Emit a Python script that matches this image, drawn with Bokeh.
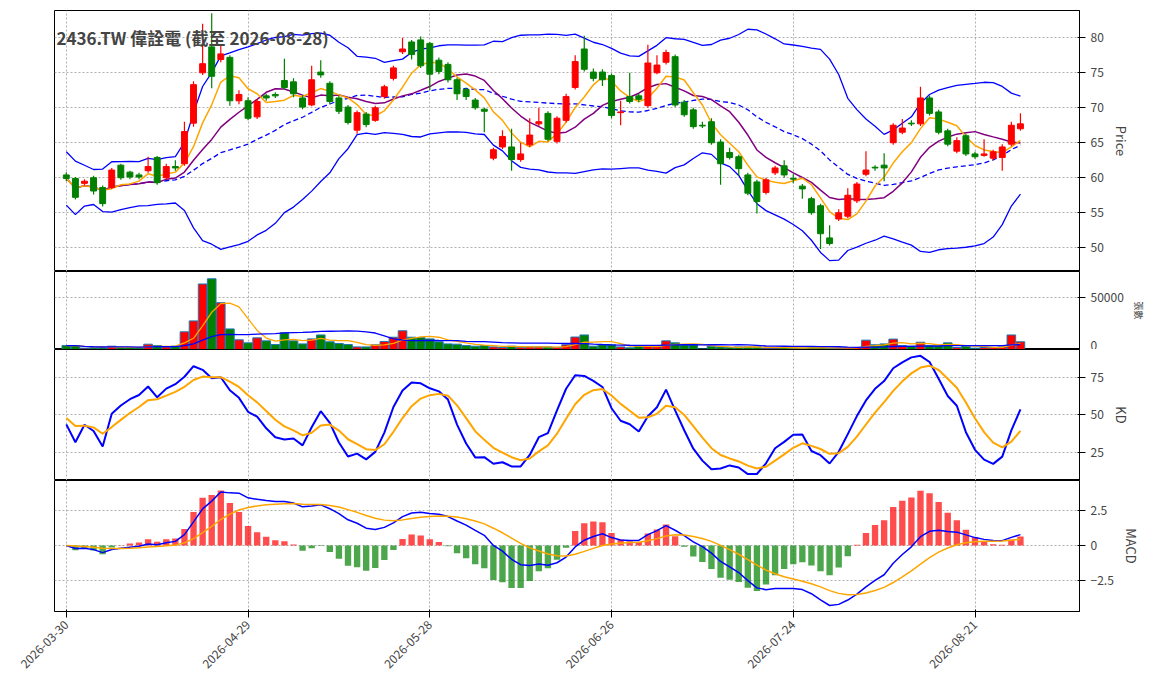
import numpy as np, pandas as pd
from bokeh.plotting import figure
from bokeh.layouts import column
from bokeh.models import ColumnDataSource, FixedTicker, Range1d, Label
from bokeh.embed import file_html
from bokeh.resources import INLINE

tick_idx = [0, 20, 40, 60, 80, 100]
tick_labels = ["2026-03-30", "2026-04-29", "2026-05-28", "2026-06-26", "2026-07-24", "2026-08-21"]

opens = [60.4,59.9,59.2,60.0,58.6,58.6,61.8,60.8,60.4,61.0,62.9,60.0,61.6,62.0,67.8,75.0,78.7,76.9,77.2,71.0,
         71.0,68.7,71.7,71.9,73.9,73.7,71.4,70.4,75.1,73.5,71.4,70.1,66.8,69.1,68.2,71.6,74.2,78.0,79.4,79.7,
         79.2,76.8,76.2,74.0,72.6,71.1,69.8,62.8,64.4,64.4,62.6,64.7,67.7,69.2,65.2,68.2,72.9,78.4,75.1,75.1,
         74.6,69.3,71.6,71.7,70.3,75.0,76.5,77.3,70.8,69.7,67.5,68.0,65.1,63.6,63.0,60.4,59.4,57.9,60.7,61.7,
         59.9,58.8,57.0,56.0,51.4,54.1,54.5,56.7,60.5,61.5,61.8,65.0,66.5,67.8,67.7,71.4,69.4,66.7,63.8,66.0,
         63.4,63.2,62.8,62.9,64.8,67.0]
closes = [59.9,57.2,59.5,58.1,56.3,61.1,60.0,60.1,60.1,61.6,59.3,61.6,61.4,66.6,73.3,76.3,74.5,77.7,71.0,71.9,
          68.5,70.9,71.4,71.7,72.9,72.0,70.1,74.0,74.7,70.9,69.5,67.9,69.3,67.6,70.0,73.0,75.7,78.4,77.6,76.0,
          74.8,75.2,74.0,72.0,71.6,70.0,69.5,64.0,65.9,62.6,63.4,66.1,68.0,65.5,68.5,71.6,76.6,75.5,74.2,74.0,
          68.9,69.4,70.9,71.2,76.4,76.1,77.9,70.4,69.0,67.3,67.4,65.0,62.0,62.9,61.3,57.8,56.6,59.7,61.4,60.4,
          59.8,58.4,55.0,52.0,50.6,55.0,57.5,59.1,61.1,61.4,61.4,67.5,67.1,67.7,71.4,69.2,66.5,64.8,65.3,63.4,
          63.0,63.4,63.7,64.4,67.5,67.7]
highs = [60.8,60.1,59.8,60.3,58.9,61.4,62.0,61.0,60.7,63.0,63.1,62.0,62.5,68.0,73.8,82.0,83.5,79.0,77.5,72.5,
         71.5,71.2,72.0,72.2,77.0,74.2,71.8,76.0,76.8,73.8,71.7,70.4,69.6,69.4,70.3,73.3,76.0,80.0,79.7,80.2,
         79.4,77.2,76.5,74.3,72.9,71.4,70.0,64.3,66.8,67.0,65.0,68.5,70.0,69.5,68.8,72.0,77.5,80.3,75.6,75.5,
         74.9,71.0,75.0,72.0,79.0,77.5,78.3,77.6,71.1,70.0,68.0,68.5,65.5,64.3,63.3,60.7,59.7,60.0,61.7,62.5,
         60.5,59.1,57.3,56.3,53.2,55.5,58.5,59.4,63.8,61.8,63.5,67.8,68.4,68.2,73.0,71.7,69.7,67.0,65.8,66.3,
         63.7,65.5,64.0,64.8,68.0,69.2]
lows = [59.5,56.9,58.9,57.6,55.9,58.4,59.7,59.8,59.8,60.7,59.0,59.7,61.0,61.7,67.3,74.7,72.8,76.5,70.3,70.5,
        68.2,68.4,71.0,71.4,72.6,71.5,69.8,70.2,74.3,70.5,69.1,67.6,66.3,67.2,68.0,71.3,73.9,77.7,76.9,75.7,
        72.5,74.8,73.6,71.1,71.1,69.7,66.5,62.5,64.1,61.0,62.3,64.4,67.4,65.2,64.9,67.9,72.6,75.2,73.8,73.1,
        68.5,67.5,70.6,70.8,70.0,74.8,76.2,70.1,68.7,67.0,67.1,64.7,59.0,62.6,60.3,57.5,54.9,57.6,60.4,60.0,
        59.2,57.0,54.7,49.8,50.3,53.8,54.2,56.4,60.2,61.0,59.5,64.7,66.2,67.4,67.4,68.9,66.2,64.5,63.5,63.1,
        62.7,63.0,62.5,61.0,64.5,66.7]
volumes = [3800,3800,1300,1600,1600,3200,2200,2000,1600,5100,3800,2500,3200,17000,27500,63000,68000,45000,19800,9300,
           6400,11200,8300,4800,16000,8300,5400,10200,14000,7400,5800,4800,2500,2500,4500,7700,11800,18000,11800,11500,
           10200,7400,5400,5100,3800,3200,3800,2500,1900,3200,2200,2500,2500,2500,1900,4500,12000,14000,3200,4500,
           4500,2500,1600,3200,3800,3200,8300,6400,4500,4500,500,3200,2500,1900,2500,2500,2500,1300,1300,1900,
           1300,1300,1900,1900,1300,1300,1600,1900,9000,4500,5400,10000,3800,3200,7000,3800,3800,6400,1900,3200,
           1300,1900,1900,2500,14000,7400]

FONT = "Noto Sans CJK TC"
n = len(closes)
x = np.arange(n)
o = np.array(opens); c = np.array(closes); h = np.array(highs); l = np.array(lows); v = np.array(volumes)
up = c >= o
col = np.where(up, "red", "green")

cs = pd.Series(c)
ma5 = cs.rolling(5, min_periods=1).mean()
ma10 = cs.rolling(10, min_periods=1).mean()
ma20 = cs.rolling(20, min_periods=1).mean()
sd20 = cs.rolling(20, min_periods=2).std().bfill()
bbu = ma20 + 2 * sd20
bbl = ma20 - 2 * sd20
vs = pd.Series(v, dtype=float)
vma5 = vs.rolling(5, min_periods=1).mean()
vma20 = vs.rolling(20, min_periods=1).mean()
hh = pd.Series(h).rolling(9, min_periods=1).max()
ll = pd.Series(l).rolling(9, min_periods=1).min()
rsv = ((cs - ll) / (hh - ll) * 100).fillna(50)
K = []; D = []; k = 50.0; d = 50.0
for r in rsv:
    k = k * 2 / 3 + r / 3; d = d * 2 / 3 + k / 3
    K.append(k); D.append(d)
dif = cs.ewm(span=12, adjust=False).mean() - cs.ewm(span=26, adjust=False).mean()
dea = dif.ewm(span=9, adjust=False).mean()
hist = 2 * (dif - dea)

W = 1147
XR = (-1.3, 111.5)

def mk(height, yr, top=0, bottom=0, label=""):
    p = figure(width=W, height=height, x_range=Range1d(*XR), y_range=Range1d(*yr),
               output_backend="svg", toolbar_location=None, y_axis_location="right",
               min_border_left=54, min_border_right=64, min_border_top=top, min_border_bottom=bottom)
    p.outline_line_color = "black"
    p.outline_line_width = 1
    for g in (p.xgrid, p.ygrid):
        g.grid_line_color = "#b0b0b0"
        g.grid_line_dash = "2 2"
    p.xaxis.ticker = FixedTicker(ticks=tick_idx)
    p.yaxis.axis_label = label
    p.yaxis.axis_label_text_font = FONT
    p.yaxis.axis_label_text_font_style = "normal"
    p.yaxis.axis_label_text_font_size = "13px"
    p.yaxis.major_label_text_font = FONT
    p.yaxis.major_label_text_font_size = "12px"
    p.yaxis.minor_tick_line_color = None
    p.axis.axis_line_color = "black"
    return p

src = ColumnDataSource(dict(x=x, o=o, c=c, h=h, l=l, top=np.maximum(o, c), bot=np.minimum(o, c),
                            col=col, v=v, ma5=ma5, ma10=ma10, ma20=ma20, bbu=bbu, bbl=bbl,
                            vma5=vma5, vma20=vma20, K=K, D=D, dif=dif, dea=dea, hist=hist,
                            hcol=np.where(hist >= 0, "red", "green")))

p1 = mk(271, (46.6, 83.9), top=10, label="Price")
p1.xaxis.visible = False
p1.add_layout(Label(x=2, y=222, x_units="screen", y_units="screen", text="2436.TW 偉詮電 (截至 2026-08-28)",
                    text_font=FONT, text_font_size="17px", text_font_style="bold"))
p1.line("x", "bbu", source=src, color="blue", line_width=1.3)
p1.line("x", "bbl", source=src, color="blue", line_width=1.3)
p1.line("x", "ma20", source=src, color="blue", line_width=1.3, line_dash="5 3")
p1.line("x", "ma10", source=src, color="purple", line_width=1.5)
p1.line("x", "ma5", source=src, color="orange", line_width=1.5)
p1.segment("x", "h", "x", "l", source=src, color="col", line_width=1.2)
p1.vbar(x="x", top="top", bottom="bot", width=0.65, source=src, fill_color="col", line_color="col")

p2 = mk(78, (0, 75000), label="張數")
p2.xaxis.visible = False
p2.yaxis.ticker = FixedTicker(ticks=[0, 50000])
p2.yaxis.axis_label_text_font_size = "9px"
p2.vbar(x="x", top="v", width=0.95, source=src, fill_color="col", line_color="#1f77b4", line_width=1)
p2.line("x", "vma5", source=src, color="orange", line_width=1.3)
p2.line("x", "vma20", source=src, color="blue", line_width=1.3)

p3 = mk(131, (6, 93.7), label="KD")
p3.xaxis.visible = False
p3.yaxis.ticker = FixedTicker(ticks=[25, 50, 75])
p3.line("x", "K", source=src, color="blue", line_width=2)
p3.line("x", "D", source=src, color="orange", line_width=2)

p4 = mk(203, (-4.71, 4.64), bottom=72, label="MACD")
p4.yaxis.ticker = FixedTicker(ticks=[-2.5, 0, 2.5])
p4.vbar(x="x", top="hist", width=0.7, source=src, fill_color="hcol", line_color=None, fill_alpha=0.7)
p4.line("x", "dif", source=src, color="blue", line_width=1.5)
p4.line("x", "dea", source=src, color="orange", line_width=1.5)
p4.xaxis.major_label_overrides = {i: t for i, t in zip(tick_idx, tick_labels)}
p4.xaxis.major_label_orientation = 0.785
p4.xaxis.major_label_text_font = FONT
p4.xaxis.major_label_text_font_size = "12px"
p4.xaxis.minor_tick_line_color = None

lay = column(p1, p2, p3, p4, spacing=0)
open("out.html", "w").write(file_html(lay, INLINE))
